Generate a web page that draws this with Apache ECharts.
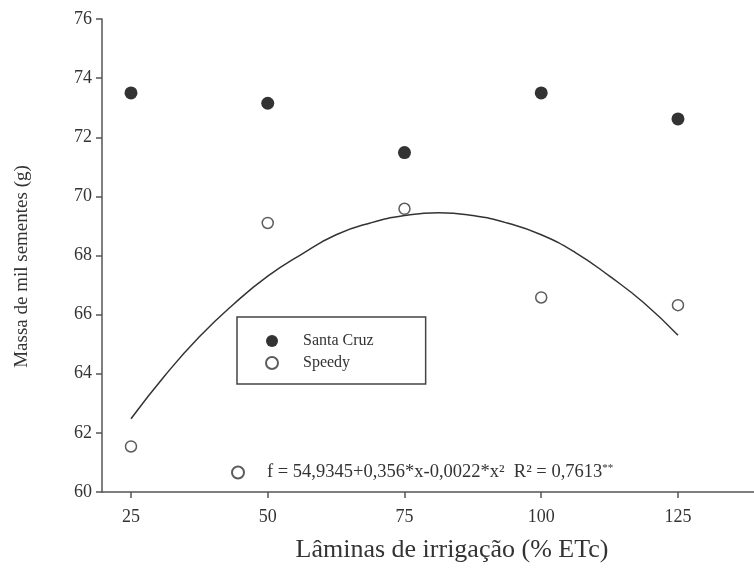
<!DOCTYPE html>
<html>
<head>
<meta charset="utf-8">
<script src="https://cdn.jsdelivr.net/npm/echarts@6/dist/echarts.min.js"></script>
<style>
html,body{margin:0;padding:0;background:#fff;}
#chart{width:754px;height:571px;}
</style>
</head>
<body>
<div id="chart"></div>
<script>
// Data
const xTicks = [25, 50, 75, 100, 125];
const santaCruz = [73.5, 73.15, 71.48, 73.5, 72.62];
const speedy = [61.54, 69.1, 69.58, 66.58, 66.32];
// Fitted curve (Speedy)
const fitX = [25, 31.25, 37.5, 43.75, 50, 56.25, 62.5, 68.75, 75, 81.25, 87.5, 93.75, 100, 106.25, 112.5, 118.75, 125];
const fitY = [62.48, 63.95, 65.25, 66.35, 67.3, 68.05, 68.7, 69.1, 69.35, 69.45, 69.35, 69.1, 68.7, 68.1, 67.3, 66.4, 65.3];
const equationText = 'f = 54,9345+0,356*x-0,0022*x²  R² = 0,7613';

const FONT = 'Liberation Serif';
const chart = echarts.init(document.getElementById('chart'));
chart.setOption({
  backgroundColor: '#fff',
  animation: false,
  grid: { left: 102, right: 0, top: 19, bottom: 79, containLabel: false },
  xAxis: {
    type: 'value', min: 19.7, max: 138.9,
    name: 'Lâminas de irrigação (% ETc)',
    nameLocation: 'middle', nameGap: 45,
    nameTextStyle: { fontFamily: FONT, fontSize: 26, color: '#333', padding: [0, 0, 0, 48] },
    axisLine: { show: true, lineStyle: { color: '#555', width: 1.5 } },
    axisTick: { show: true, customValues: xTicks, length: 6, lineStyle: { color: '#555', width: 1.5 } },
    axisLabel: { customValues: xTicks, fontFamily: FONT, fontSize: 18, color: '#333', margin: 16 },
    splitLine: { show: false }
  },
  yAxis: {
    type: 'value', min: 60, max: 76, interval: 2,
    name: 'Massa de mil sementes (g)',
    nameLocation: 'middle', nameGap: 70, nameRotate: 90,
    nameTextStyle: { fontFamily: FONT, fontSize: 19, color: '#333', padding: [0, 22, 0, 0] },
    axisLine: { show: true, lineStyle: { color: '#555', width: 1.5 } },
    axisTick: { show: true, length: 6, lineStyle: { color: '#555', width: 1.5 } },
    axisLabel: { fontFamily: FONT, fontSize: 18, color: '#333', margin: 10 },
    splitLine: { show: false }
  },
  legend: [{
    data: ['Santa Cruz', 'Speedy'],
    orient: 'vertical',
    left: 237, top: 317,
    padding: [16, 52, 13, 28],
    itemGap: 6,
    itemWidth: 12, itemHeight: 12,
    borderColor: '#444', borderWidth: 1.5, borderRadius: 0,
    textStyle: { fontFamily: FONT, fontSize: 16, color: '#333', lineHeight: 16, padding: [0, 0, 0, 20] }
  }, {
    data: ['Speedy'],
    orient: 'horizontal',
    left: 231, top: 463,
    padding: 0,
    itemWidth: 12, itemHeight: 12,
    formatter: () => equationText + '{sup|**}',
    textStyle: {
      fontFamily: FONT, fontSize: 18.5, color: '#333', padding: [0, 0, 0, 18],
      rich: { sup: { fontFamily: FONT, fontSize: 11, color: '#333', verticalAlign: 'top', padding: [0, 0, 8, 0] } }
    }
  }],
  series: [
    {
      name: 'Santa Cruz', type: 'scatter',
      symbol: 'circle', symbolSize: 13,
      itemStyle: { color: '#000' },
      data: xTicks.map((x, i) => [x, santaCruz[i]]),
      z: 3
    },
    {
      name: 'Speedy', type: 'scatter',
      symbol: 'circle', symbolSize: 11,
      itemStyle: { color: '#fff', borderColor: '#333', borderWidth: 1.5 },
      data: xTicks.map((x, i) => [x, speedy[i]]),
      z: 3
    },
    {
      name: 'fit', type: 'line', smooth: 0.5, showSymbol: false,
      symbol: 'none', silent: true,
      lineStyle: { color: '#333', width: 1.5 },
      data: fitX.map((x, i) => [x, fitY[i]]),
      z: 2
    }
  ]
});
</script>
</body>
</html>
